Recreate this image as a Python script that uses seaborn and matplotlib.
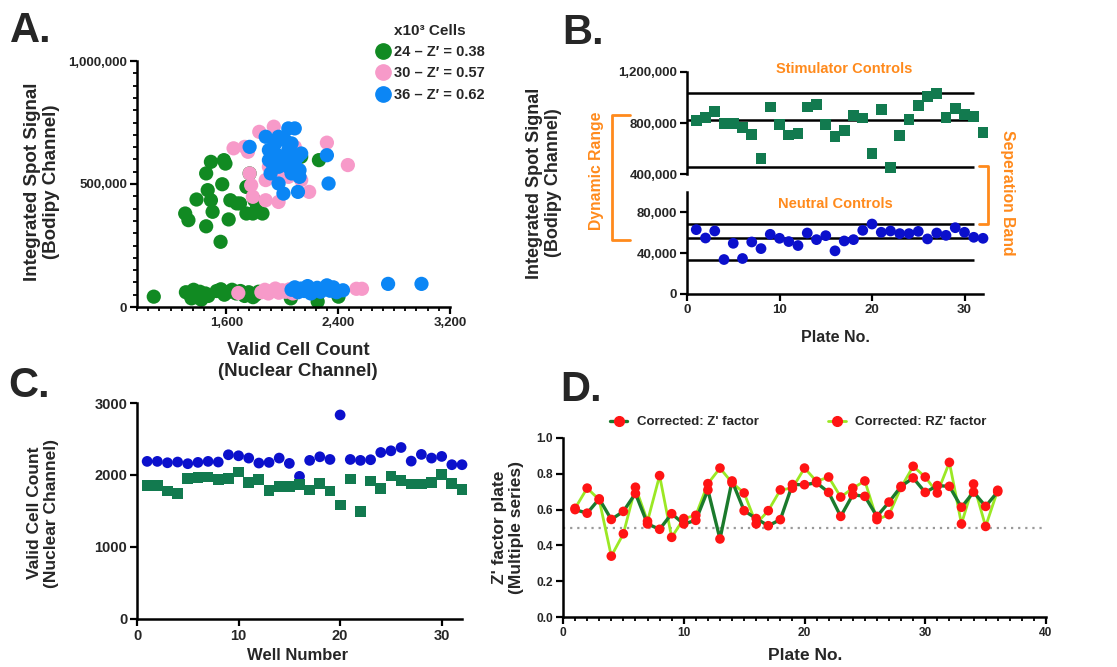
import numpy as np
import pandas as pd
import matplotlib
matplotlib.use("Agg")
import matplotlib.pyplot as plt
import seaborn as sns
from matplotlib.ticker import FuncFormatter, MultipleLocator
from matplotlib.lines import Line2D

# ---------------- data ----------------
# Panel A (x: valid cell count, y: integrated spot signal)
a_green_x = [1489, 1582, 1593, 1455, 1570, 1743, 1386, 1466, 1489, 1501, 1305, 1328, 1455,
             1616, 1558, 1628, 1674, 1697, 1743, 1789, 1812, 1858, 1766, 2135, 2262, 1800,
             1080, 1310, 1340, 1365, 1390, 1410, 1430, 1450, 1470, 1530, 1560, 1585, 1610,
             1640, 1670, 1700, 1730, 1760, 1790, 1810, 1830, 2061, 2253, 2402, 1350, 1420]
a_green_y = [590e3, 597e3, 583e3, 543e3, 499e3, 488e3, 437e3, 475e3, 434e3, 387e3, 380e3,
             353e3, 328e3, 356e3, 265e3, 434e3, 421e3, 421e3, 380e3, 380e3, 394e3, 380e3,
             543e3, 611e3, 597e3, 434e3,
             42e3, 60e3, 50e3, 70e3, 40e3, 62e3, 48e3, 55e3, 45e3, 65e3, 72e3, 50e3, 60e3,
             70e3, 55e3, 65e3, 45e3, 60e3, 40e3, 50e3, 62e3, 35e3, 22e3, 42e3, 35e3, 30e3]
a_pink_x = [1835, 1939, 1651, 1731, 1754, 1766, 1777, 1789, 1881, 1973, 1881, 1904, 1973,
            2043, 2192, 2319, 2469, 2089, 2043, 2135,
            1685, 1850, 1875, 1900, 1925, 1950, 1975, 2000, 2025, 2050, 2075, 2100, 2530, 2570]
a_pink_y = [712e3, 733e3, 645e3, 651e3, 631e3, 543e3, 495e3, 448e3, 434e3, 427e3, 516e3,
            570e3, 543e3, 529e3, 468e3, 668e3, 577e3, 651e3, 611e3, 516e3,
            57e3, 60e3, 70e3, 55e3, 65e3, 75e3, 58e3, 68e3, 62e3, 72e3, 55e3, 60e3, 74e3, 74e3]
a_blue_x = [1766, 1881, 1973, 2043, 2089, 1904, 1950, 1996, 2020, 2043, 2066, 2089, 2112,
            2135, 1927, 1973, 2043, 2123, 1916, 1973, 2008, 2112, 2319, 2331, 2020, 2066,
            1950, 1904, 2066, 2123,
            2066, 2089, 2112, 2135, 2158, 2181, 2204, 2227, 2250, 2273, 2296, 2319, 2342,
            2365, 2388, 2434, 2757, 2996]
a_blue_y = [651e3, 692e3, 692e3, 726e3, 726e3, 638e3, 624e3, 611e3, 597e3, 638e3, 624e3,
            584e3, 611e3, 624e3, 584e3, 570e3, 570e3, 529e3, 543e3, 502e3, 461e3, 468e3,
            617e3, 502e3, 678e3, 665e3, 665e3, 597e3, 543e3, 556e3,
            70e3, 80e3, 60e3, 75e3, 65e3, 85e3, 55e3, 70e3, 78e3, 62e3, 72e3, 88e3, 66e3,
            80e3, 60e3, 68e3, 94e3, 94e3]
a_groups = ["24 \u2013 Z\u2032 = 0.38", "30 \u2013 Z\u2032 = 0.57", "36 \u2013 Z\u2032 = 0.62"]

# Panel B
b_plate = list(range(1, 33))
b_stim = [817e3, 843e3, 893e3, 796e3, 796e3, 762e3, 710e3, 522e3, 926e3, 786e3, 705e3,
          718e3, 926e3, 945e3, 786e3, 692e3, 744e3, 856e3, 840e3, 562e3, 906e3, 452e3,
          700e3, 830e3, 939e3, 1005e3, 1031e3, 843e3, 913e3, 866e3, 851e3, 726e3]
b_neut = [63.1e3, 54.9e3, 61.8e3, 33.8e3, 49.7e3, 34.8e3, 51.0e3, 44.5e3, 58.5e3, 54.6e3,
          51.4e3, 47.5e3, 59.8e3, 53.3e3, 57.2e3, 42.3e3, 52.0e3, 53.3e3, 62.4e3, 68.6e3,
          60.5e3, 61.8e3, 59.2e3, 59.2e3, 61.4e3, 54.0e3, 59.8e3, 57.5e3, 65.0e3, 60.5e3,
          55.6e3, 54.6e3]
b_stim_lines = [1035e3, 827e3, 452e3]
b_neut_lines = [68.3e3, 55.3e3, 33.8e3]

# Panel C
c_well = list(range(1, 33))
c_blue = [2189, 2189, 2170, 2180, 2157, 2175, 2189, 2180, 2281, 2267, 2235, 2166, 2175,
          2235, 2161, 1981, 2203, 2253, 2216, 2834, 2216, 2203, 2212, 2313, 2336, 2382,
          2193, 2286, 2235, 2258, 2143, 2143]
c_green = [1857, 1852, 1779, 1746, 1949, 1963, 1972, 1935, 1949, 2041, 1894, 1940, 1788,
           1838, 1838, 1866, 1792, 1880, 1779, 1585, 1945, 1493, 1917, 1816, 1986, 1922,
           1875, 1875, 1898, 2009, 1880, 1797]

# Panel D
d_plate = list(range(1, 37))
d_z = [0.60, 0.58, 0.66, 0.545, 0.59, 0.69, 0.52, 0.49, 0.577, 0.52, 0.54, 0.71, 0.436,
       0.76, 0.594, 0.55, 0.51, 0.544, 0.74, 0.739, 0.75, 0.696, 0.562, 0.683, 0.674,
       0.562, 0.642, 0.73, 0.777, 0.696, 0.734, 0.73, 0.613, 0.698, 0.618, 0.70]
d_rz = [0.607, 0.72, 0.655, 0.34, 0.465, 0.725, 0.535, 0.79, 0.445, 0.55, 0.568, 0.745,
        0.832, 0.75, 0.693, 0.52, 0.594, 0.71, 0.72, 0.832, 0.758, 0.782, 0.67, 0.72,
        0.76, 0.544, 0.572, 0.724, 0.842, 0.782, 0.693, 0.864, 0.52, 0.743, 0.506, 0.708]
d_labels = ["Corrected: Z' factor", "Corrected: RZ' factor"]

# ---------------- style ----------------
sns.set_theme(style="ticks")
FONT = ['Liberation Sans', 'DejaVu Sans']
plt.rcParams['font.family'] = FONT
plt.rcParams['font.weight'] = 'bold'
plt.rcParams['axes.labelweight'] = 'bold'

W, H = 1117, 667
fig = plt.figure(figsize=(W / 100, H / 100), dpi=100)


def rect(l, t, r, b):
    return [l / W, 1 - b / H, (r - l) / W, (b - t) / H]


def fx(x):
    return x / W


def fy(y):
    return 1 - y / H


def style(ax, size):
    for s in ['top', 'right']:
        ax.spines[s].set_visible(False)
    for s in ['left', 'bottom']:
        ax.spines[s].set_linewidth(1.8)
        ax.spines[s].set_color('black')
    ax.tick_params(which='major', width=1.6, length=5, labelsize=size, color='black', pad=2)
    ax.tick_params(which='minor', width=1.3, length=3, color='black')
    ax.set_xlabel('')
    ax.set_ylabel('')


comma = FuncFormatter(lambda v, p: f"{int(round(v)):,}")

GREEN_A, PINK_A, BLUE_A = '#118a22', '#f79ac9', '#0b86f5'
TEAL, NAVY = '#127a4f', '#0b10cc'
ORANGE = '#ff8a1c'

# ---------------- Panel A ----------------
axA = fig.add_axes(rect(137, 61, 450, 307))
dfA = pd.DataFrame({
    'x': a_green_x + a_pink_x + a_blue_x,
    'y': a_green_y + a_pink_y + a_blue_y,
    'g': [a_groups[0]] * len(a_green_x) + [a_groups[1]] * len(a_pink_x) + [a_groups[2]] * len(a_blue_x),
})
sns.scatterplot(data=dfA, x='x', y='y', hue='g', palette=[GREEN_A, PINK_A, BLUE_A],
                s=105, edgecolor='none', linewidth=0, alpha=1, legend=False, ax=axA, clip_on=False)
axA.set_xlim(960, 3200)
axA.set_ylim(0, 1e6)
axA.set_xticks([1600, 2400, 3200])
axA.xaxis.set_minor_locator(MultipleLocator(80))
axA.set_yticks([0, 500000, 1000000])
axA.yaxis.set_minor_locator(MultipleLocator(50000))
axA.xaxis.set_major_formatter(comma)
axA.yaxis.set_major_formatter(comma)
style(axA, 9.5)
hA = [Line2D([], [], marker='o', ls='', color=c, markersize=11) for c in [GREEN_A, PINK_A, BLUE_A]]
legA = fig.legend(hA, a_groups, title="x10\u00b3 Cells", loc='upper left',
                  bbox_to_anchor=(fx(368), fy(18)), frameon=False,
                  prop=dict(family=FONT, weight='bold', size=10.5),
                  handletextpad=0.2, labelspacing=0.5, borderaxespad=0, handlelength=1.2)
legA.get_title().set_fontweight('bold')
legA.get_title().set_fontsize(11)
fig.text(fx(42), fy(182), "Integrated Spot Signal\n(Bodipy Channel)", rotation=90,
         ha='center', va='center', fontsize=13.5, fontweight='bold', linespacing=1.15)
fig.text(fx(298), fy(361), "Valid Cell Count\n(Nuclear Channel)", ha='center', va='center',
         fontsize=13.5, fontweight='bold', linespacing=1.25)
fig.text(fx(10), fy(31), "A.", fontsize=30, fontweight='bold', va='center', ha='left')

# ---------------- Panel B ----------------
axU = fig.add_axes(rect(687, 72, 983, 174))
axL = fig.add_axes(rect(687, 192, 983, 294))
dfB = pd.DataFrame({'plate': b_plate, 'stim': b_stim, 'neut': b_neut})
axU.hlines(b_stim_lines, 0, 31, color='black', lw=1.8)
axL.hlines(b_neut_lines, 0, 31, color='black', lw=1.8)
sns.scatterplot(data=dfB, x='plate', y='stim', marker='s', color=TEAL, s=60,
                edgecolor='none', ax=axU, clip_on=False, zorder=3)
sns.scatterplot(data=dfB, x='plate', y='neut', marker='o', color=NAVY, s=60,
                edgecolor='none', ax=axL, clip_on=False, zorder=3)
for ax in (axU, axL):
    ax.set_xlim(0, 32)
    style(ax, 9.5)
axU.set_ylim(400000, 1200000)
axU.set_yticks([400000, 800000, 1200000])
axU.spines['bottom'].set_visible(False)
axU.set_xticks([])
axL.set_ylim(0, 100000)
axL.set_yticks([0, 40000, 80000])
axL.set_xticks([0, 10, 20, 30])
axU.yaxis.set_major_formatter(comma)
axL.yaxis.set_major_formatter(comma)
fig.text(fx(544), fy(183), "Integrated Spot Signal\n(Bodipy Channel)", rotation=90,
         ha='center', va='center', fontsize=13, fontweight='bold', linespacing=1.15)
fig.text(fx(835), fy(338), "Plate No.", ha='center', va='center', fontsize=11.5, fontweight='bold')
fig.text(fx(844), fy(69), "Stimulator Controls", ha='center', va='center', fontsize=10.5,
         fontweight='bold', color=ORANGE)
fig.text(fx(835), fy(204), "Neutral Controls", ha='center', va='center', fontsize=10.5,
         fontweight='bold', color=ORANGE)
fig.add_artist(Line2D([fx(630), fx(612), fx(612), fx(630)], [fy(115), fy(115), fy(240), fy(240)],
                      transform=fig.transFigure, color=ORANGE, lw=2))
fig.add_artist(Line2D([fx(979), fx(988), fx(988), fx(979)], [fy(166), fy(166), fy(224), fy(224)],
                      transform=fig.transFigure, color=ORANGE, lw=2))
fig.text(fx(597), fy(171), "Dynamic Range", rotation=90, ha='center', va='center',
         fontsize=11.3, fontweight='bold', color=ORANGE)
fig.text(fx(1007), fy(193), "Seperation Band", rotation=270, ha='center', va='center',
         fontsize=11.3, fontweight='bold', color=ORANGE)
fig.text(fx(562), fy(33), "B.", fontsize=30, fontweight='bold', va='center', ha='left')

# ---------------- Panel C ----------------
axC = fig.add_axes(rect(137, 403, 462, 619))
dfC = pd.DataFrame({'well': c_well, 'blue': c_blue, 'green': c_green})
sns.scatterplot(data=dfC, x='well', y='blue', marker='o', color=NAVY, s=60,
                edgecolor='none', ax=axC, clip_on=False)
sns.scatterplot(data=dfC, x='well', y='green', marker='s', color=TEAL, s=60,
                edgecolor='none', ax=axC, clip_on=False)
axC.set_xlim(0, 32)
axC.set_ylim(0, 3000)
axC.set_xticks([0, 10, 20, 30])
axC.set_yticks([0, 1000, 2000, 3000])
style(axC, 10.5)
fig.text(fx(43), fy(513), "Valid Cell Count\n(Nuclear Channel)", rotation=90,
         ha='center', va='center', fontsize=12.5, fontweight='bold', linespacing=1.15)
fig.text(fx(298), fy(656), "Well Number", ha='center', va='center', fontsize=12, fontweight='bold')
fig.text(fx(8), fy(386), "C.", fontsize=30, fontweight='bold', va='center', ha='left')

# ---------------- Panel D ----------------
axD = fig.add_axes(rect(563, 438, 1046, 617))
dfD = pd.DataFrame({'plate': d_plate * 2, 'val': d_z + d_rz,
                    'series': [d_labels[0]] * len(d_z) + [d_labels[1]] * len(d_rz)})
DG, LG = '#1b7a2c', '#9be824'
axD.axhline(0.5, color='#9a9a9a', lw=1.6, ls=(0, (1, 2.2)), zorder=1)
sns.lineplot(data=dfD[dfD.series == d_labels[1]], x='plate', y='val', color=LG, lw=2,
             ax=axD, legend=False, zorder=2)
sns.lineplot(data=dfD[dfD.series == d_labels[0]], x='plate', y='val', color=DG, lw=2.4,
             ax=axD, legend=False, zorder=3)
sns.scatterplot(data=dfD, x='plate', y='val', color='#ff1414', s=48, edgecolor='none',
                ax=axD, legend=False, zorder=4)
axD.set_xlim(0, 40)
axD.set_ylim(0, 1.0)
axD.set_xticks([0, 10, 20, 30, 40])
axD.xaxis.set_minor_locator(MultipleLocator(1))
axD.set_yticks([0, 0.2, 0.4, 0.6, 0.8, 1.0])
axD.yaxis.set_major_formatter(FuncFormatter(lambda v, p: f"{v:.1f}"))
style(axD, 8.6)
hD = [Line2D([], [], color=DG, lw=2.4, marker='o', mfc='#ff1414', mec='#ff1414', markersize=7),
      Line2D([], [], color=LG, lw=2, marker='o', mfc='#ff1414', mec='#ff1414', markersize=7)]
fig.legend(hD, d_labels, loc='center left', bbox_to_anchor=(fx(605), fy(422)), ncol=2,
           frameon=False, prop=dict(family=FONT, weight='bold', size=9.5),
           handlelength=1.3, handletextpad=0.7, columnspacing=5.3, borderaxespad=0)
fig.text(fx(508), fy(527), "Z' factor plate\n(Multiple series)", rotation=90,
         ha='center', va='center', fontsize=12.5, fontweight='bold', linespacing=1.15)
fig.text(fx(805), fy(656), "Plate No.", ha='center', va='center', fontsize=12.5, fontweight='bold')
fig.text(fx(560), fy(390), "D.", fontsize=30, fontweight='bold', va='center', ha='left')

fig.savefig("out.png", dpi=100)
